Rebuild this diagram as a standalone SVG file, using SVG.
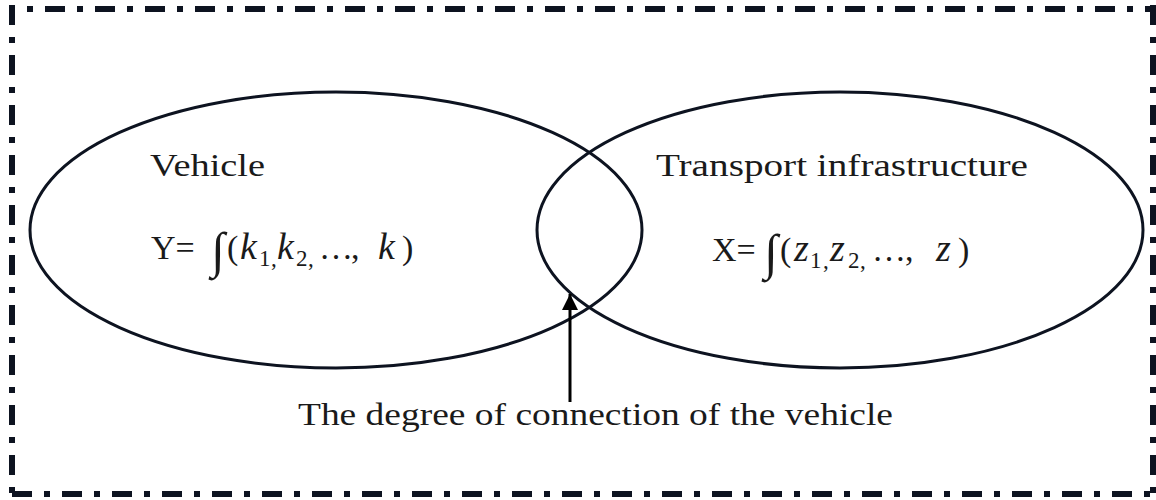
<svg xmlns="http://www.w3.org/2000/svg" width="1156" height="500" viewBox="0 0 1156 500">
<style>
.frame{stroke:#0d1320;stroke-width:6;fill:none;stroke-dasharray:20 12 6 12}
.ell{fill:none;stroke:#0d1320;stroke-width:3}
.t{font-family:"Liberation Serif","Times New Roman",serif;font-size:32px;fill:#1a1a1a}
.m{font-family:"Liberation Serif","Times New Roman",serif;font-size:34px;fill:#1a1a1a}
.i{font-style:italic;font-size:38px}
.s{font-size:23px}
.int{font-size:50px}
</style>
<defs>
<marker id="ah" viewBox="0 0 10 10" refX="10" refY="5" markerWidth="16" markerHeight="16" markerUnits="userSpaceOnUse" orient="auto">
<path d="M0,0 L10,5 L0,10 z" fill="#000"/>
</marker>
</defs>
<g id="frame">
<line class="frame" x1="12" y1="9" x2="1153" y2="9" stroke-dashoffset="17"/>
<line class="frame" x1="12" y1="5" x2="12" y2="495"/>
<line class="frame" x1="1153" y1="5" x2="1153" y2="495"/>
<line class="frame" x1="12" y1="494" x2="1153" y2="494"/>
</g>
<g id="vehicle">
<ellipse class="ell" cx="336" cy="230" rx="306" ry="138"/>
<text class="t" x="150" y="176" textLength="115" lengthAdjust="spacingAndGlyphs">Vehicle</text>
<text class="m" y="259"><tspan x="151">Y=</tspan><tspan x="211" y="267" class="int">∫</tspan><tspan x="227" y="259">(</tspan><tspan x="240" class="i">k</tspan><tspan x="259" y="266" class="s">1</tspan><tspan x="271" y="266" class="s">,</tspan><tspan x="277" y="259" class="i">k</tspan><tspan x="296" y="266" class="s">2</tspan><tspan x="308" y="266" class="s">,</tspan><tspan x="319" y="259">…</tspan><tspan x="351">,</tspan><tspan x="378" class="i">k</tspan><tspan x="402">)</tspan></text>
</g>
<g id="infrastructure">
<ellipse class="ell" cx="840" cy="230" rx="303" ry="138"/>
<text class="t" x="656" y="176" textLength="372" lengthAdjust="spacingAndGlyphs">Transport infrastructure</text>
<text class="m" y="261"><tspan x="712">X=</tspan><tspan x="764" y="269" class="int">∫</tspan><tspan x="780" y="261">(</tspan><tspan x="794" class="i">z</tspan><tspan x="810" y="268" class="s">1</tspan><tspan x="823" y="268" class="s">,</tspan><tspan x="830" y="261" class="i">z</tspan><tspan x="848" y="268" class="s">2</tspan><tspan x="860" y="268" class="s">,</tspan><tspan x="872" y="261">…</tspan><tspan x="905">,</tspan><tspan x="936" class="i">z</tspan><tspan x="958">)</tspan></text>
</g>
<g id="label">
<text class="t" x="298" y="425" textLength="595" lengthAdjust="spacingAndGlyphs">The degree of connection of the vehicle</text>
</g>
<g id="connectors">
<line x1="570" y1="402" x2="570" y2="294" stroke="#000" stroke-width="3" marker-end="url(#ah)"/>
</g>
</svg>
